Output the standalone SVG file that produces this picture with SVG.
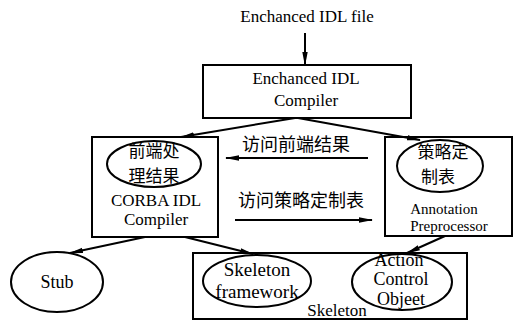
<svg xmlns="http://www.w3.org/2000/svg" width="515" height="328" viewBox="0 0 515 328">
<defs>
<marker id="ah" markerUnits="userSpaceOnUse" markerWidth="14" markerHeight="7" refX="13" refY="3.5" orient="auto">
<path d="M0,0.8 L14,3.5 L0,6.2 z" fill="#000"/>
</marker>
</defs>
<style>
.box{fill:#fff;stroke:#000;stroke-width:2}
.ell{fill:none;stroke:#000;stroke-width:2}
.en{fill:#000;text-anchor:middle}
.zh{fill:#000;text-anchor:middle}
.ln{stroke:#000;stroke-width:2;fill:none;marker-end:url(#ah)}
</style>
<rect width="515" height="328" fill="#fff"/>
<g font-family="Liberation Serif, Times New Roman, DejaVu Serif, serif" font-size="17">
<g id="input">
<text class="en" x="307" y="22">Enchanced IDL file</text>
</g>
<g id="enhanced-compiler">
<rect class="box" x="203" y="65" width="208" height="53"/>
<text class="en" x="306" y="84">Enchanced IDL<tspan x="306" dy="22">Compiler</tspan></text>
</g>
<g id="corba-compiler">
<rect class="box" x="92" y="137" width="126" height="100"/>
<ellipse class="ell" cx="154" cy="164" rx="47" ry="23"/>
<text class="zh" x="154" y="157" font-family="Noto Sans CJK SC, Noto Sans CJK JP, sans-serif" font-size="17">前端处<tspan x="154" dy="25">理结果</tspan></text>
<text class="en" x="156" y="206">CORBA IDL<tspan x="156" dy="19">Compiler</tspan></text>
</g>
<g id="annotation-preprocessor">
<rect class="box" x="385" y="137" width="127" height="99"/>
<ellipse class="ell" cx="440" cy="166" rx="43" ry="26"/>
<text class="zh" x="443" y="158" font-family="Noto Sans CJK SC, Noto Sans CJK JP, sans-serif" font-size="17">策略定<tspan x="438" dy="25">制表</tspan></text>
<text class="en" x="444" y="214" font-size="15">Annotation<tspan x="449" dy="17">Preprocessor</tspan></text>
</g>
<g id="stub">
<ellipse class="ell" cx="57" cy="282" rx="46" ry="30"/>
<text class="en" x="57" y="288" font-size="18">Stub</text>
</g>
<g id="skeleton">
<rect class="box" x="193" y="253" width="274" height="66"/>
<ellipse class="ell" cx="257" cy="281" rx="54" ry="26"/>
<text class="en" x="257" y="276" font-size="19">Skeleton<tspan x="257" dy="22">framework</tspan></text>
<ellipse class="ell" cx="402" cy="282" rx="50" ry="28"/>
<text class="en" x="399" y="266" font-size="18">Action<tspan x="401" dy="19">Control</tspan><tspan x="401" dy="20">Objeet</tspan></text>
<text class="en" x="337" y="316">Skeleton</text>
</g>
<g id="connectors">
<line class="ln" x1="305" y1="33" x2="305" y2="65"/>
<line class="ln" x1="295" y1="118" x2="181" y2="137"/>
<line class="ln" x1="298" y1="118" x2="420" y2="140"/>
<line class="ln" x1="368" y1="158" x2="226" y2="158"/>
<text class="zh" x="296" y="151" font-family="Noto Sans CJK SC, Noto Sans CJK JP, sans-serif" font-size="18">访问前端结果</text>
<line class="ln" x1="235" y1="220" x2="372" y2="220"/>
<text class="zh" x="301" y="207" font-family="Noto Sans CJK SC, Noto Sans CJK JP, sans-serif" font-size="18">访问策略定制表</text>
<line class="ln" x1="145" y1="237" x2="70" y2="253"/>
<line class="ln" x1="185" y1="237" x2="253" y2="254"/>
<line class="ln" x1="445" y1="236" x2="407" y2="253"/>
</g>
</g>
</svg>
